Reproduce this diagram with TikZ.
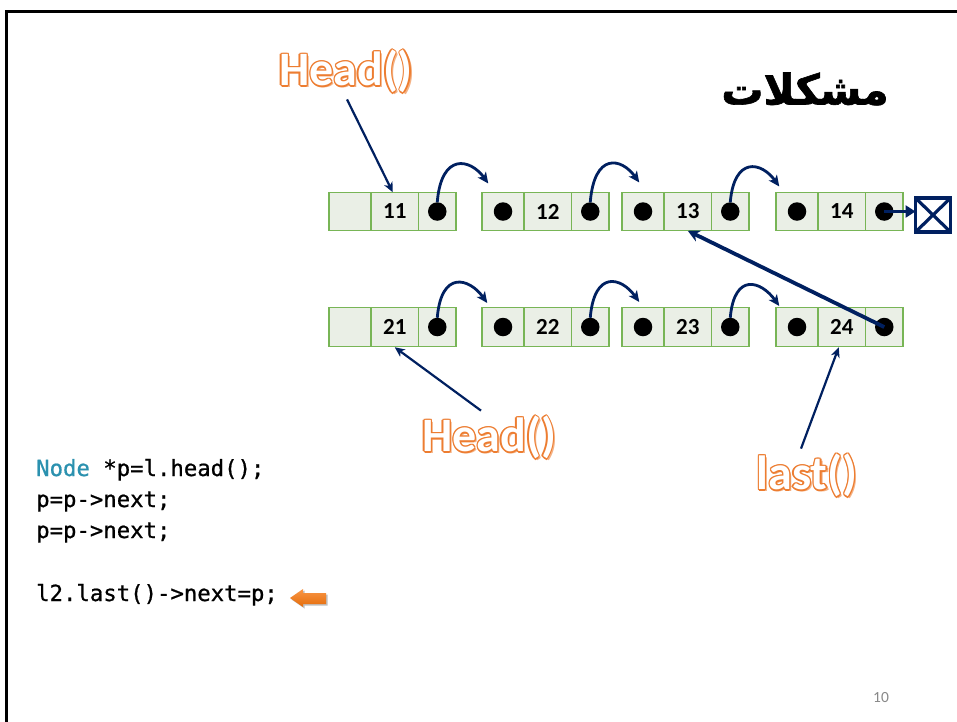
\documentclass[tikz,border=0pt]{standalone}
\usepackage{fontspec}
\setmainfont{Carlito}
\newfontfamily\codefont{DejaVu Sans Mono}[FakeBold=0.8]
\newfontface\titlefont{DejaVu Sans Bold}[Script=Arabic,FakeBold=1.5]
\newfontface\labelface{Carlito Bold}
\TeXXeTstate=1
\usetikzlibrary{arrows.meta,calc}

\definecolor{navy}{RGB}{0,32,96}
\definecolor{cellfill}{RGB}{234,239,230}
\definecolor{celledge}{RGB}{120,181,86}
\definecolor{labelorange}{RGB}{237,125,49}
\definecolor{labelshade}{RGB}{244,177,131}
\definecolor{codeblue}{RGB}{43,145,175}
\definecolor{pagegray}{RGB}{137,137,137}
\definecolor{markertop}{RGB}{249,150,70}
\definecolor{markerbot}{RGB}{228,108,10}

% orange outlined lettering with a soft drop shadow
\newcommand\olay[3]{\makebox[0pt][l]{\hspace*{#1}\raisebox{#2}{#3}}}
\newcommand\glowtext[1]{%
  \olay{2.2pt}{-2.2pt}{\color{labelshade}#1}%
  \olay{1.3pt}{0pt}{\color{labelorange}#1}%
  \olay{-1.3pt}{0pt}{\color{labelorange}#1}%
  \olay{0pt}{1.3pt}{\color{labelorange}#1}%
  \olay{0pt}{-1.3pt}{\color{labelorange}#1}%
  \olay{.92pt}{.92pt}{\color{labelorange}#1}%
  \olay{-.92pt}{.92pt}{\color{labelorange}#1}%
  \olay{.92pt}{-.92pt}{\color{labelorange}#1}%
  \olay{-.92pt}{-.92pt}{\color{labelorange}#1}%
  {\color{white}#1}}

% one list element: empty/dot cell, value cell, next-pointer cell
\newcommand\listnode[5]{%
  \node[cellA] (#1a) at (#2,#3) {};
  \node[cellB] (#1b) at (#1a.east) {#4};
  \node[cellC] (#1c) at (#1b.east) {};
  \node[dot] (#1q) at (#1c) {};
  \ifnum#5=1 \node[dot] (#1p) at (#1a) {};\fi
}

\tikzset{
  cellbase/.style={draw=celledge, fill=cellfill, line width=1.3pt, anchor=west,
    minimum height=38.5pt, inner sep=0pt, outer sep=0pt,
    font=\fontsize{23}{26}\selectfont\bfseries},
  cellA/.style={cellbase, minimum width=42pt},
  cellB/.style={cellbase, minimum width=47.5pt},
  cellC/.style={cellbase, minimum width=37.5pt},
  dot/.style={circle, fill=black, minimum size=18.5pt, inner sep=0pt, outer sep=0pt},
  link/.style={draw=navy, line width=2.8pt, -{Stealth[length=11pt,width=10pt,inset=3pt]}},
  pointer/.style={draw=navy, line width=2.2pt, -{Stealth[length=10pt,width=9pt,inset=3pt]}},
  bigpointer/.style={draw=navy, line width=3.8pt, -{Stealth[length=12pt,width=12pt,inset=4pt]}},
  nilbox/.style={draw=navy, line width=3.2pt, minimum width=35pt, minimum height=34pt,
    inner sep=0pt, outer sep=0pt},
  biglabel/.style={inner sep=0pt, font=\labelface\fontsize{48}{52}\selectfont},
  codeline/.style={anchor=base west, inner sep=0pt,
    font=\codefont\fontsize{22.3}{26}\selectfont},
  pagenum/.style={text=pagegray, inner sep=0pt, font=\fontsize{15.5}{18}\selectfont},
}

\begin{document}
\begin{tikzpicture}[x=1pt,y=-1pt]
\useasboundingbox (0,0) rectangle (957,721);
\fill[white] (0,0) rectangle (957,721);

% slide frame
\draw[line width=3pt] (6.2,722) -- (6.2,11.7) -- (958,11.7);

% title
\node[inner sep=0pt, font=\titlefont\fontsize{42}{48}\selectfont] (title) at (805,89)
  {\beginR مشكلات\endR};

% first list
\listnode{n11}{329}{211.5}{11}{0}
\listnode{n12}{482}{211.5}{12}{1}
\listnode{n13}{622}{211.5}{13}{1}
\listnode{n14}{776}{211.5}{14}{1}

% second list
\listnode{n21}{329}{327}{21}{0}
\listnode{n22}{482}{327}{22}{1}
\listnode{n23}{622}{327}{23}{1}
\listnode{n24}{776}{327}{24}{1}

% arrow tips of the next links
\coordinate (t12) at ($(n11q)+(51,-28)$);
\coordinate (t13) at ($(n12q)+(49,-29)$);
\coordinate (t14) at ($(n13q)+(49,-25)$);
\coordinate (t22) at ($(n21q)+(50,-24)$);
\coordinate (t23) at ($(n22q)+(49,-25)$);
\coordinate (t24) at ($(n23q)+(49,-21)$);

\draw[link] (n11q.north) .. controls +(4,-50) and +(-18,-25) .. (t12);
\draw[link] (n12q.north) .. controls +(4,-50) and +(-18,-25) .. (t13);
\draw[link] (n13q.north) .. controls +(4,-46) and +(-18,-25) .. (t14);
\draw[link] (n21q.north) .. controls +(4,-48) and +(-18,-25) .. (t22);
\draw[link] (n22q.north) .. controls +(4,-48) and +(-18,-25) .. (t23);
\draw[link] (n23q.north) .. controls +(4,-46) and +(-18,-25) .. (t24);

% null terminator
\node[nilbox] (nil) at (933,215) {};
\draw[navy, line width=3.2pt] (nil.north west) -- (nil.south east)
  (nil.north east) -- (nil.south west);
\draw[navy, line width=3.5pt, -{Triangle[length=10pt,width=12pt]}]
  (n14q.center) -- (nil.west |- n14q.center);

% last element of the second list now points into the first list
\draw[bigpointer] (n24q.center) -- (n13b.south);

% labels
\node[biglabel] (head1) at (346,72) {\glowtext{Head()}};
\node[biglabel] (head2) at (489,438) {\glowtext{Head()}};
\node[biglabel] (lastl) at (807,476) {\glowtext{last()}};

\draw[pointer] ($(head1.south)+(1,4)$) -- ($(n11b.north)+(-2,0)$);
\draw[pointer] ($(head2.north)+(-8,-4)$) -- ($(n21b.south)+(0,1)$);
\draw[pointer] ($(lastl.north)+(-6,-4)$) -- ($(n24b.south)+(-3,1)$);

% code
\node[codeline] (c1) at (36,476) {\textcolor{codeblue}{Node} *p=l.head();};
\node[codeline] (c2) at (36,507) {p=p->next;};
\node[codeline] (c3) at (36,538) {p=p->next;};
\node[codeline] (c5) at (36,601) {l2.last()->next=p;};

% orange marker arrow next to the current line
\fill[black!25] (291.5,599.5) -- (304.5,590.5) -- (304.5,594.5) -- (327.5,594.5)
  -- (327.5,605.5) -- (304.5,605.5) -- (304.5,608.5) -- cycle;
\shade[top color=markertop, bottom color=markerbot]
  (290,598) -- (303,589) -- (303,593) -- (326,593) -- (326,604) -- (303,604)
  -- (303,607) -- cycle;

% page number
\node[pagenum] (pg) at (881,698) {10};
\end{tikzpicture}
\end{document}
